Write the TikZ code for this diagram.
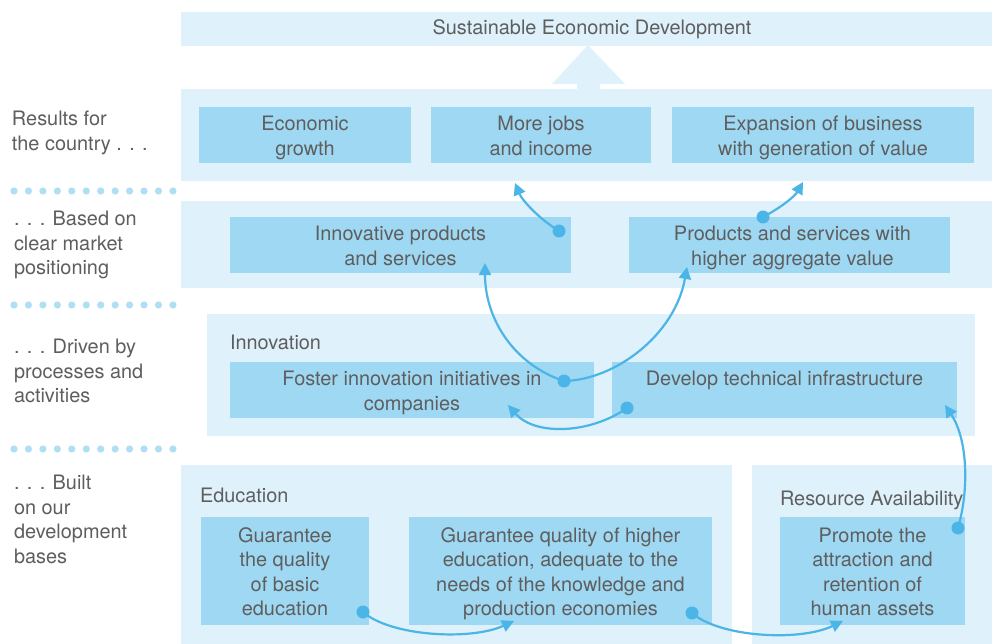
\documentclass[tikz,border=0pt]{standalone}
\usepackage{fontspec}
\setmainfont{TeX Gyre Heros}
\usetikzlibrary{arrows.meta}
\definecolor{bandc}{HTML}{DFF1FA}
\definecolor{boxc}{HTML}{9FD8F2}
\definecolor{txt}{HTML}{5E5E5E}
\definecolor{arr}{HTML}{4CB5E7}
\definecolor{dotc}{HTML}{AEDFF5}
\newcommand\myTop{\rule{0pt}{21.8pt}}
\newcommand\myBot{\rule[-6pt]{0pt}{6pt}}
\begin{document}
\begin{tikzpicture}[x=1pt,y=-1pt,
  every node/.style={text=txt, font=\fontsize{19.9}{24.5}\selectfont, inner sep=0pt, outer sep=0pt},
  bandbox/.style={fill=bandc, draw=none, rectangle},
  cell/.style={fill=boxc, draw=none, rectangle, align=center},
  sidelbl/.style={align=left, anchor=north west},
  grouplbl/.style={anchor=base west},
  link/.style={draw=arr, line width=2.2pt, -{Triangle[length=12pt,width=12pt]}},
  dotmark/.style={fill=arr}
]
\useasboundingbox (0,0) rectangle (992,644);
\fill[white] (0,0) rectangle (992,644);

% bands
\node[bandbox, minimum width=811pt, minimum height=34pt] (topband) at (586.5,29) {};
\node[bandbox, minimum width=811pt, minimum height=92pt] (resband) at (586.5,135) {};
\node[bandbox, minimum width=811pt, minimum height=87pt] (mktband) at (586.5,244.5) {};
\node[bandbox, minimum width=768pt, minimum height=122pt] (innband) at (591,375) {};
\node[bandbox, minimum width=551pt, minimum height=179pt] (eduband) at (456.5,554.5) {};
\node[bandbox, minimum width=240pt, minimum height=179pt] (rsband) at (872,554.5) {};

% big up arrow
\fill[bandc] (577,90) -- (577,84) -- (552,84) -- (588,45) -- (625,84) -- (600,84) -- (600,90) -- cycle;

\node[anchor=base] (title) at (592,35) {Sustainable Economic Development};

% result boxes
\node[cell, minimum width=212pt, minimum height=56pt] (eg) at (305,135) {\myTop Economic\\growth\myBot};
\node[cell, minimum width=220pt, minimum height=56pt] (jobs) at (541,135) {\myTop More jobs\\and income\myBot};
\node[cell, minimum width=302pt, minimum height=56pt] (exp) at (823,135) {\myTop Expansion of business\\with generation of value\myBot};

% market boxes
\node[cell, minimum width=341pt, minimum height=56pt] (inn) at (400.5,245) {\myTop Innovative products\\and services\myBot};
\node[cell, minimum width=321pt, minimum height=56pt] (pas) at (789.5,245) {\myTop\hspace*{6pt}Products and services with\\\hspace*{6pt}higher aggregate value\myBot};

% innovation
\node[grouplbl] (innlbl) at (230,349) {Innovation};
\node[cell, minimum width=364pt, minimum height=56pt] (fos) at (412,390) {\myTop Foster innovation initiatives in\\companies\myBot};
\node[cell, minimum width=345pt, minimum height=56pt] (dev) at (784.5,390) {\myTop Develop technical infrastructure\\\mbox{}\myBot};

% bases
\node[grouplbl] (edulbl) at (200,502) {Education};
\node[grouplbl] (rslbl) at (780,505) {Resource Availability};
\node[cell, minimum width=168pt, minimum height=108pt] (gb) at (285,571) {\myTop Guarantee\\the quality\\of basic\\education\myBot};
\node[cell, minimum width=303pt, minimum height=108pt] (gh) at (560.5,571) {\myTop Guarantee quality of higher\\education, adequate to the\\needs of the knowledge and\\production economies\myBot};
\node[cell, minimum width=185pt, minimum height=108pt] (pr) at (872.5,571) {\myTop Promote the\\attraction and\\retention of\\human assets\myBot};

% side labels
\node[sidelbl] (l1) at (12,111) {Results for\\the country . . .};
\node[sidelbl] (l2) at (14,211) {. . . Based on\\clear market\\positioning};
\node[sidelbl] (l3) at (14,339) {. . . Driven by\\processes and\\activities};
\node[sidelbl] (l4) at (14,475) {. . . Built\\on our\\development\\bases};

% dotted separators
\foreach \yy in {191,305,449}{
  \foreach \i in {0,...,11}{
    \fill[dotc] ({14+\i*14.45},\yy) circle (3.6pt);
  }
}

% connector end points
\coordinate (d1) at (559,231);  \coordinate (t1) at (515,183);
\coordinate (d2) at (763,217);  \coordinate (t2) at (803,182);
\coordinate (d3) at (564,381);  \coordinate (t3) at (485,263);
\coordinate (t4) at (687,267);
\coordinate (d5) at (627,408);  \coordinate (t5) at (508,405);
\coordinate (d6) at (958,528);  \coordinate (t6) at (945,405);
\coordinate (d7) at (363,612);  \coordinate (t7) at (514,621);
\coordinate (d8) at (692,613);  \coordinate (t8) at (843,621);

\draw[link] (d1) .. controls (538,218) and (522,200) .. (t1);
\draw[link] (d2) .. controls (782,207) and (795,196) .. (t2);
\draw[link] (d3) .. controls (515,365) and (485,320) .. (t3);
\draw[link] (d3) .. controls (615,380) and (675,335) .. (t4);
\draw[link] (d5) .. controls (590,434) and (535,436) .. (t5);
\draw[link] (d6) .. controls (969,490) and (968,440) .. (t6);
\draw[link] (d7) .. controls (390,636) and (470,641) .. (t7);
\draw[link] (d8) .. controls (719,637) and (799,642) .. (t8);

\foreach \p in {d1,d2,d3,d5,d6,d7,d8}{
  \fill[dotmark] (\p) circle (6.5pt);
}
\end{tikzpicture}
\end{document}
